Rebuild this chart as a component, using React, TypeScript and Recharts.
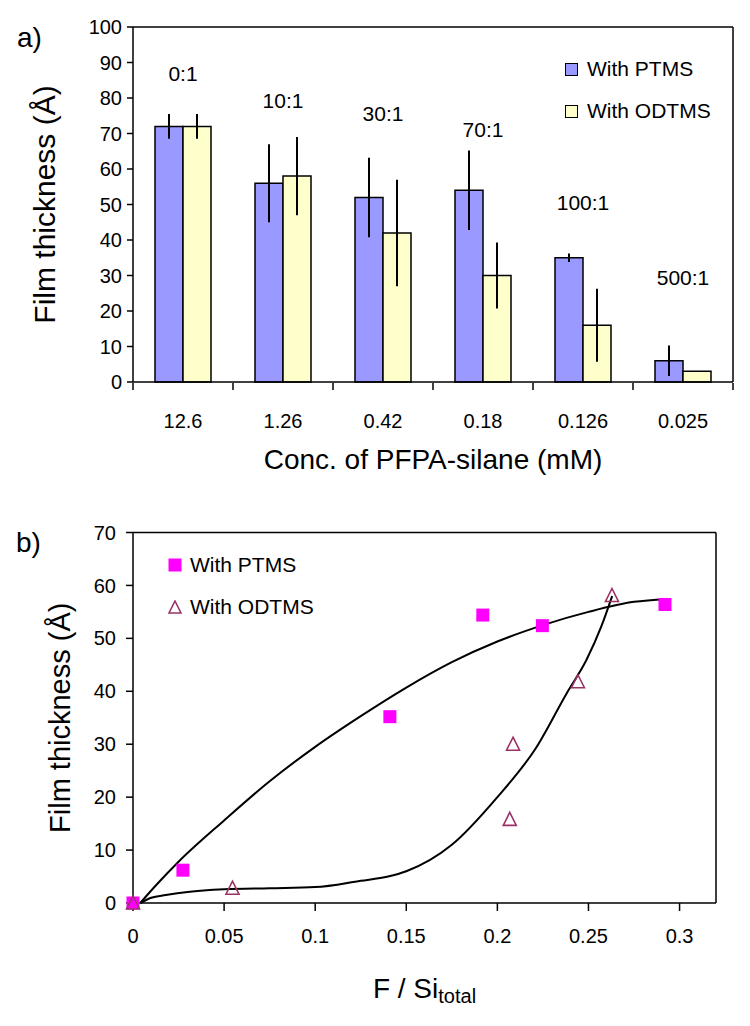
import {
  ComposedChart,
  Bar,
  Line,
  Scatter,
  XAxis,
  YAxis,
  ErrorBar,
  LabelList,
  Legend,
  ReferenceLine,
} from "recharts"

const FONT = '"Liberation Sans", Arial, Helvetica, sans-serif'

// ---- panel a) ----
const concentrations = ["12.6", "1.26", "0.42", "0.18", "0.126", "0.025"]
const ratios = ["0:1", "10:1", "30:1", "70:1", "100:1", "500:1"]
const ptmsThickness = [72, 56, 52, 54, 35, 6]
const ptmsError = [3.5, 11, 11.2, 11.2, 1.2, 4.3]
const odtmsThickness = [72, 58, 42, 30, 16, 3]
const odtmsError = [3.5, 11, 15, 9.3, 10.3, 0]
// height (in Å) at which each ratio annotation sits
const ratioLabelAt = [87, 79.2, 75.5, 71, 50.6, 29.5]
const thicknessTicksA = [0, 10, 20, 30, 40, 50, 60, 70, 80, 90, 100]
const categoryEdges = [0, 1, 2, 3, 4, 5, 6]

// ---- panel b) ----
const ptmsRatio = [0, 0.0274, 0.141, 0.192, 0.2247, 0.292]
const ptmsFilm = [0, 6.2, 35.2, 54.4, 52.4, 56.4]
const odtmsRatio = [0, 0.0546, 0.2068, 0.2086, 0.2442, 0.2629]
const odtmsFilm = [0, 2.8, 15.8, 30, 41.8, 58.1]
const upperFitX = [0.004, 0.0125, 0.025, 0.05, 0.075, 0.1, 0.125, 0.15, 0.175, 0.2, 0.225, 0.25, 0.275, 0.293]
const upperFitY = [0, 3.3, 7.8, 15.6, 23, 29.5, 35.3, 40.7, 45.5, 49.4, 52.5, 55, 56.9, 57.4]
const lowerFitX = [0.004, 0.01, 0.018, 0.03, 0.05, 0.075, 0.1, 0.125, 0.14, 0.15, 0.175, 0.2, 0.221, 0.238, 0.249, 0.257, 0.263]
const lowerFitY = [0, 1, 1.5, 2.1, 2.6, 2.8, 3, 4.2, 5, 6, 11, 20, 29.2, 39.6, 46, 52.2, 58]
const ratioTicksB = [0, 0.05, 0.1, 0.15, 0.2, 0.25, 0.3]
const thicknessTicksB = [0, 10, 20, 30, 40, 50, 60, 70]

const barRows = concentrations.map((conc, i) => ({
  conc,
  mid: i + 0.5,
  ratio: ratios[i],
  ratioAt: ratioLabelAt[i],
  ptms: ptmsThickness[i],
  ptmsErr: ptmsError[i],
  odtms: odtmsThickness[i],
  odtmsErr: odtmsError[i],
}))

const ptmsPoints = ptmsRatio.map((x, i) => ({ x, y: ptmsFilm[i] }))
const odtmsPoints = odtmsRatio.map((x, i) => ({ x, y: odtmsFilm[i] }))
const upperFit = upperFitX.map((x, i) => ({ x, y: upperFitY[i] }))
const lowerFit = lowerFitX.map((x, i) => ({ x, y: lowerFitY[i] }))

const tickStyle = { fill: "#000", fontSize: 20, fontFamily: FONT }
const axisStroke = { stroke: "#000", strokeWidth: 1.5 }

const PTMS_BAR = "#9999FF"
const ODTMS_BAR = "#FFFFCC"
const PTMS_DOT = "#FF00FF"
const ODTMS_DOT = "#993366"

function BarLegend() {
  const items = [
    { name: "With PTMS", fill: PTMS_BAR },
    { name: "With ODTMS", fill: ODTMS_BAR },
  ]
  return (
    <div style={{ fontFamily: FONT, fontSize: 21, color: "#000" }}>
      {items.map((it) => (
        <div key={it.name} style={{ display: "flex", alignItems: "center", height: 42 }}>
          <span
            style={{
              width: 11,
              height: 11,
              background: it.fill,
              border: "1.5px solid #000",
              marginRight: 9,
            }}
          />
          {it.name}
        </div>
      ))}
    </div>
  )
}

function ScatterLegend() {
  return (
    <div style={{ fontFamily: FONT, fontSize: 21, color: "#000" }}>
      <div style={{ display: "flex", alignItems: "center", height: 42 }}>
        <svg width={14} height={14} style={{ marginRight: 8 }}>
          <rect x={0.5} y={0.5} width={13} height={13} fill={PTMS_DOT} />
        </svg>
        With PTMS
      </div>
      <div style={{ display: "flex", alignItems: "center", height: 42 }}>
        <svg width={14} height={14} style={{ marginRight: 8 }}>
          <path d="M7 1 L13 13 L1 13 Z" fill="none" stroke={ODTMS_DOT} strokeWidth={1.6} />
        </svg>
        With ODTMS
      </div>
    </div>
  )
}

const squareShape = (p: any) => (
  <rect x={p.cx - 6.5} y={p.cy - 6.5} width={13} height={13} fill={PTMS_DOT} />
)
const triangleShape = (p: any) => (
  <path
    d={`M${p.cx} ${p.cy - 7} L${p.cx + 6.5} ${p.cy + 6} L${p.cx - 6.5} ${p.cy + 6} Z`}
    fill="none"
    stroke={ODTMS_DOT}
    strokeWidth={1.6}
  />
)

export default function App() {
  return (
    <div style={{ position: "absolute", left: 0, top: 0, width: 750, height: 1026, background: "#fff" }}>
      <div style={{ position: "absolute", left: 17, top: 22, fontFamily: FONT, fontSize: 28 }}>a)</div>
      <div style={{ position: "absolute", left: 16, top: 527, fontFamily: FONT, fontSize: 28 }}>b)</div>

      <div style={{ position: "absolute", left: 0, top: 0 }}>
        <ComposedChart
          width={750}
          height={500}
          data={barRows}
          margin={{ top: 27, right: 17, left: 73, bottom: 116 }}
          barCategoryGap={22}
          barGap={0}
        >
          <XAxis
            xAxisId="edges"
            dataKey="mid"
            type="number"
            domain={[0, 6]}
            ticks={categoryEdges}
            tickFormatter={() => ""}
            tickSize={7}
            tickLine={axisStroke}
            axisLine={false}
            height={1}
          />
          <XAxis
            dataKey="conc"
            tickLine={false}
            axisLine={axisStroke}
            tick={tickStyle}
            tickMargin={26}
            height={1}
            label={{
              content: (p: any) => (
                <text
                  x={p.viewBox.x + p.viewBox.width / 2}
                  y={p.viewBox.y + 87}
                  textAnchor="middle"
                  fontFamily={FONT}
                  fontSize={28}
                  fill="#000"
                >
                  Conc. of PFPA-silane (mM)
                </text>
              ),
            }}
          />
          <YAxis
            domain={[0, 100]}
            ticks={thicknessTicksA}
            tick={tickStyle}
            tickSize={6}
            tickLine={axisStroke}
            axisLine={axisStroke}
            tickMargin={5}
            width={60}
            label={{
              content: (p: any) => (
                <text
                  transform={`translate(${p.viewBox.x - 29}, ${p.viewBox.y + p.viewBox.height / 2}) rotate(-90)`}
                  textAnchor="middle"
                  dominantBaseline="central"
                  fontFamily={FONT}
                  fontSize={30}
                  fill="#000"
                >
                  Film thickness (Å)
                </text>
              ),
            }}
          />
          <ReferenceLine y={100} stroke="#000" strokeWidth={1.5} />
          <ReferenceLine xAxisId="edges" x={6} stroke="#000" strokeWidth={1.5} />
          <Legend
            layout="vertical"
            align="center"
            verticalAlign="middle"
            content={<BarLegend />}
            wrapperStyle={{ left: 565, top: 48, width: 180 }}
          />
          <Bar dataKey="ptms" name="With PTMS" fill={PTMS_BAR} stroke="#000" strokeWidth={1.5} isAnimationActive={false}>
            <ErrorBar dataKey="ptmsErr" width={0} stroke="#000" strokeWidth={2} direction="y" />
          </Bar>
          <Bar dataKey="odtms" name="With ODTMS" fill={ODTMS_BAR} stroke="#000" strokeWidth={1.5} isAnimationActive={false}>
            <ErrorBar dataKey="odtmsErr" width={0} stroke="#000" strokeWidth={2} direction="y" />
          </Bar>
          <Line
            xAxisId="edges"
            dataKey="ratioAt"
            stroke="none"
            dot={false}
            activeDot={false}
            legendType="none"
            isAnimationActive={false}
          >
            <LabelList
              dataKey="ratio"
              content={(p: any) => (
                <text x={p.x} y={p.y} textAnchor="middle" dominantBaseline="central" fontFamily={FONT} fontSize={21} fill="#000">
                  {p.value}
                </text>
              )}
            />
          </Line>
        </ComposedChart>
      </div>

      <div style={{ position: "absolute", left: 0, top: 500 }}>
        <ComposedChart width={750} height={526} margin={{ top: 32.5, right: 34, left: 73, bottom: 83 }}>
          <XAxis
            dataKey="x"
            type="number"
            domain={[0, 0.32]}
            ticks={ratioTicksB}
            tick={tickStyle}
            tickSize={8}
            tickLine={axisStroke}
            axisLine={axisStroke}
            tickMargin={18}
            height={40}
            label={{
              content: (p: any) => (
                <text
                  x={p.viewBox.x + p.viewBox.width / 2}
                  y={p.viewBox.y + 95}
                  textAnchor="middle"
                  fontFamily={FONT}
                  fontSize={28}
                  fill="#000"
                >
                  <tspan>F / Si</tspan>
                  <tspan fontSize={20} dy={5}>total</tspan>
                </text>
              ),
            }}
          />
          <YAxis
            type="number"
            domain={[0, 70]}
            ticks={thicknessTicksB}
            tick={tickStyle}
            tickSize={7}
            tickLine={axisStroke}
            axisLine={axisStroke}
            tickMargin={10}
            width={60}
            label={{
              content: (p: any) => (
                <text
                  transform={`translate(${p.viewBox.x - 13}, ${p.viewBox.y + p.viewBox.height / 2}) rotate(-90)`}
                  textAnchor="middle"
                  dominantBaseline="central"
                  fontFamily={FONT}
                  fontSize={29}
                  fill="#000"
                >
                  Film thickness (Å)
                </text>
              ),
            }}
          />
          <ReferenceLine y={70} stroke="#000" strokeWidth={1.5} />
          <ReferenceLine x={0.32} stroke="#000" strokeWidth={1.5} />
          <Legend
            layout="vertical"
            align="center"
            verticalAlign="middle"
            content={<ScatterLegend />}
            wrapperStyle={{ left: 168, top: 44, width: 200 }}
          />
          <Line data={upperFit} dataKey="y" type="monotone" stroke="#000" strokeWidth={2} dot={false} activeDot={false} legendType="none" isAnimationActive={false} />
          <Line data={lowerFit} dataKey="y" type="monotone" stroke="#000" strokeWidth={2} dot={false} activeDot={false} legendType="none" isAnimationActive={false} />
          <Scatter data={ptmsPoints} dataKey="y" name="With PTMS" fill={PTMS_DOT} shape={squareShape} isAnimationActive={false} />
          <Scatter data={odtmsPoints} dataKey="y" name="With ODTMS" fill={ODTMS_DOT} shape={triangleShape} isAnimationActive={false} />
        </ComposedChart>
      </div>
    </div>
  )
}
